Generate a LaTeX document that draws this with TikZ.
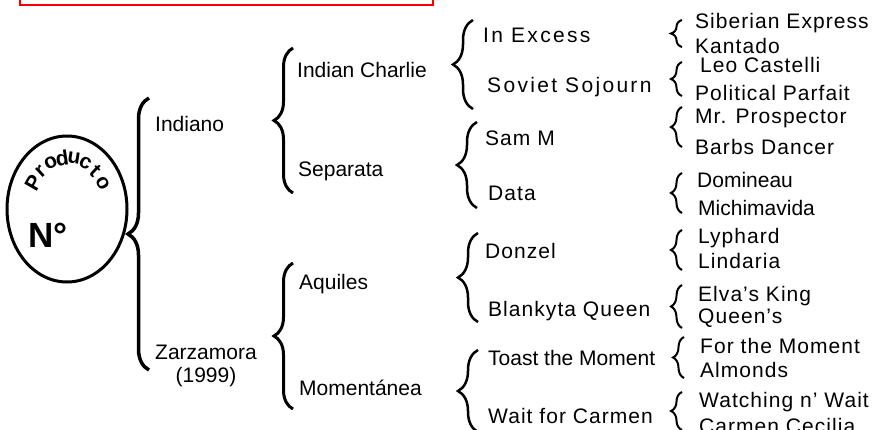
\documentclass[tikz,border=0pt]{standalone}
\usepackage{fontspec}
\setmainfont{Liberation Sans}
\newfontfamily\lightfont[LetterSpace=5]{Liberation Sans}
\newfontfamily\widefont[LetterSpace=11]{Liberation Sans}
\usetikzlibrary{decorations.pathreplacing,shapes.geometric}
\tikzstyle{item} = [anchor=base west, inner sep=0pt, font=\fontsize{21}{23}\selectfont]
\tikzstyle{light} = [item, font=\fontsize{21}{23}\selectfont\lightfont]
\tikzstyle{wide} = [item, font=\fontsize{21}{23}\selectfont\widefont]
\tikzstyle{letter} = [inner sep=0pt, font=\fontsize{21}{21}\selectfont\bfseries]
\tikzstyle{bigbrace} = [decorate, decoration={brace, amplitude=21pt}, line width=3.5pt]
\tikzstyle{midbrace} = [decorate, decoration={brace, amplitude=19pt}, line width=3pt]
\tikzstyle{brace} = [decorate, decoration={brace, amplitude=20pt}, line width=2.5pt]
\tikzstyle{smallbrace} = [decorate, decoration={brace, amplitude=11pt}, line width=2pt]

\begin{document}
\begin{tikzpicture}[x=1pt, y=-1pt]
\useasboundingbox (0,0) rectangle (892,429);

% frame cut at the top
\draw [red, line width=2pt] (20,-20) rectangle (433,5);

% root
\node [ellipse, draw, line width=3pt, minimum width=120pt, minimum height=146pt] (root) at (67,209) {};
\node [item, anchor=base west, font=\fontsize{35}{35}\selectfont\bfseries] (num) at (28,247) {N°};
\foreach \ch [count=\i from 0] in {P,r,o,d,u,c,t,o} {
  \pgfmathsetmacro\a{150-\i*120/7}
  \node [letter, rotate=\a-90] (p\i) at ({68+40*cos(\a)},{208-50*sin(\a)}) {\ch};
}

% first level
\draw [bigbrace] (149,370) -- (149,98);
\node [item] (indiano) at (155,131) {Indiano};
\node [item, anchor=north, align=center] (zarza) at (206,345) {Zarzamora\\(1999)};

% second level
\draw [midbrace] (293,193) -- (293,48);
\draw [midbrace] (293,409) -- (293,263);
\node [item] (charlie) at (297,77) {Indian Charlie};
\node [item] (separata) at (298,176) {Separata};
\node [item] (aquiles) at (299,289) {Aquiles};
\node [item] (momentanea) at (299,395) {Momentánea};

% third level
\draw [brace] (473,109) -- (473,20);
\draw [brace] (477,208) -- (477,122);
\draw [brace] (478,322) -- (478,233);
\draw [brace] (478,432) -- (478,350);
\node [wide] (excess) at (483,42) {In Excess};
\node [wide] (soviet) at (487,92) {Soviet Sojourn};
\node [light] (samm) at (485,145) {Sam M};
\node [light] (data) at (488,200) {Data};
\node [light] (donzel) at (485,258) {Donzel};
\node [light] (blankyta) at (488,316) {Blankyta Queen};
\node [item] (toast) at (488,365) {Toast the Moment};
\node [light] (carmen) at (488,423) {Wait for Carmen};

% fourth level
\draw [smallbrace] (682,47) -- (682,20);
\draw [smallbrace] (682,96) -- (682,62);
\draw [smallbrace] (682,147) -- (682,107);
\draw [smallbrace] (682,213) -- (682,173);
\draw [smallbrace] (682,270) -- (682,230);
\draw [smallbrace] (682,328) -- (682,285);
\draw [smallbrace] (684,378) -- (684,337);
\draw [smallbrace] (682,430) -- (682,392);
\node [light] (siberian) at (695,28) {Siberian Express};
\node [light] (kantado) at (695,53) {Kantado};
\node [light] (leo) at (700,72) {Leo Castelli};
\node [light] (political) at (695,100) {Political Parfait};
\node [light] (prospector) at (695,123) {Mr. Prospector};
\node [light] (barbs) at (695,154) {Barbs Dancer};
\node [item] (domineau) at (697,187) {Domineau};
\node [item] (michimavida) at (698,215) {Michimavida};
\node [light] (lyphard) at (698,243) {Lyphard};
\node [light] (lindaria) at (698,268) {Lindaria};
\node [light] (elva) at (698,301) {Elva’s King};
\node [light] (queens) at (698,323) {Queen’s};
\node [light] (forthe) at (700,353) {For the Moment};
\node [light] (almonds) at (700,377) {Almonds};
\node [light] (watching) at (699,407) {Watching n’ Wait};
\node [light] (cecilia) at (699,433) {Carmen Cecilia};
\end{tikzpicture}
\end{document}
